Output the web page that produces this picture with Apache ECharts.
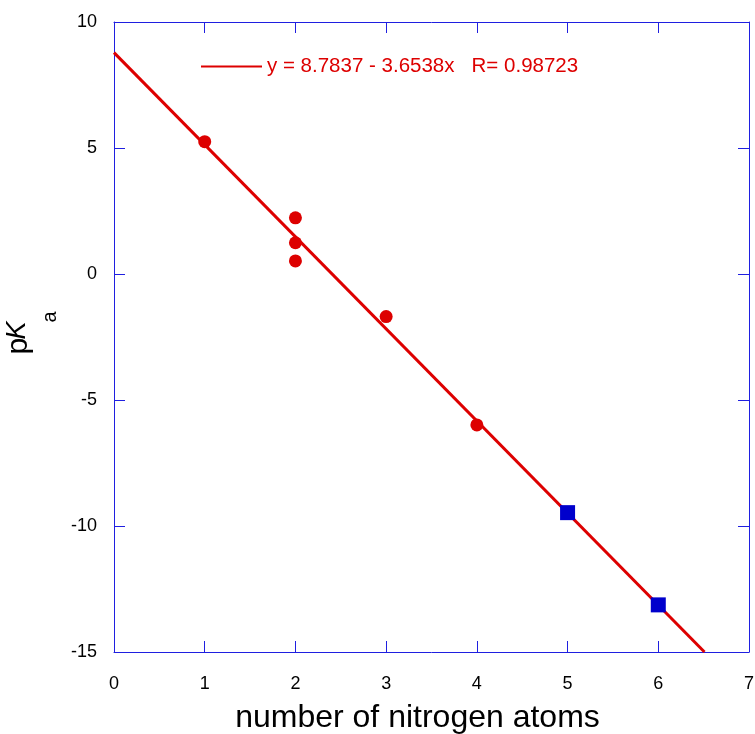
<!DOCTYPE html>
<html>
<head>
  <meta charset="utf-8" />
  <title>pKa vs nitrogen atoms</title>
  <script src="https://cdn.jsdelivr.net/npm/echarts@6/dist/echarts.min.js"></script>
</head>
<body style="margin:0">
  <div id="main" style="width: 755px; height: 734px"></div>
  <script>
    // measured points
    let redX = [1, 2, 2, 2, 3, 4];
    let redY = [5.25, 2.23, 1.24, 0.52, -1.69, -5.99];
    let blueX = [5, 6];
    let blueY = [-9.47, -13.13];
    // fitted line, drawn between its two ends
    let fitX = [0, 6.5093];
    let fitY = [8.7837, -15];
    let fitName = "y = 8.7837 - 3.6538x   R= 0.98723";

    let xTicks = [0, 7, 1];
    let yTicks = [-15, 10, 5];

    let frame = "#1f1fe0";
    let font = "Liberation Sans";

    function pairs(xs, ys) {
      return xs.map((x, i) => [x, ys[i]]);
    }

    function axisBase(extra) {
      return Object.assign({
        type: "value",
        axisLine: { show: true, onZero: false, lineStyle: { color: frame, width: 1 } },
        axisTick: { show: true, inside: true, length: 11, lineStyle: { color: frame } },
        splitLine: { show: false },
      }, extra);
    }

    option = {
      animation: false,
      grid: { left: 114, right: 6, top: 22, bottom: 82, outerBoundsMode: "none", containLabel: false },
      legend: {
        data: [fitName],
        left: 201,
        top: 56,
        padding: 0,
        icon: "rect",
        itemWidth: 61,
        itemHeight: 2,
        itemGap: 5,
        textStyle: { color: "#dd0000", fontSize: 20.5, fontFamily: font },
      },
      xAxis: [
        axisBase({
          min: xTicks[0], max: xTicks[1], interval: xTicks[2],
          position: "bottom",
          axisLabel: { color: "#000", fontSize: 18, fontFamily: font, margin: 23 },
          name: "number of nitrogen atoms",
          nameLocation: "middle",
          nameGap: 50,
          nameTextStyle: { color: "#000", fontSize: 32, fontFamily: font, padding: [0, 28, 0, 0] },
        }),
        axisBase({
          min: xTicks[0], max: xTicks[1], interval: xTicks[2],
          position: "top",
          axisLabel: { show: false },
        }),
      ],
      yAxis: [
        axisBase({
          min: yTicks[0], max: yTicks[1], interval: yTicks[2],
          position: "left",
          axisLabel: { color: "#000", fontSize: 18, fontFamily: font, margin: 17 },
          name: "{p|p}{k|K}{s|a}",
          nameLocation: "middle",
          nameRotate: 90,
          nameGap: 7,
          nameTextStyle: {
            padding: [0, 0, 0, 9],
            rich: {
              p: { fontSize: 30, fontFamily: font, color: "#000", lineHeight: 32, verticalAlign: "top", width: 15 },
              k: { fontSize: 27, fontFamily: font, fontStyle: "italic", color: "#000", lineHeight: 32, verticalAlign: "top", width: 16 },
              s: { fontSize: 20, fontFamily: font, color: "#000", lineHeight: 92 },
            },
          },
        }),
        axisBase({
          min: yTicks[0], max: yTicks[1], interval: yTicks[2],
          position: "right",
          axisLabel: { show: false },
        }),
      ],
      series: [
        {
          name: fitName,
          type: "line",
          data: pairs(fitX, fitY),
          symbol: "none",
          lineStyle: { color: "#dd0000", width: 3 },
          itemStyle: { color: "#dd0000" },
          z: 2,
        },
        {
          name: "red",
          type: "scatter",
          data: pairs(redX, redY),
          symbol: "circle",
          symbolSize: 13,
          itemStyle: { color: "#dd0000", opacity: 1 },
          z: 3,
        },
        {
          name: "blue",
          type: "scatter",
          data: pairs(blueX, blueY),
          symbol: "rect",
          symbolSize: 15,
          itemStyle: { color: "#0000cc", opacity: 1 },
          z: 3,
        },
      ],
    };

    chartLine = echarts.init(document.getElementById("main"));
    chartLine.setOption(option);
  </script>
</body>
</html>
